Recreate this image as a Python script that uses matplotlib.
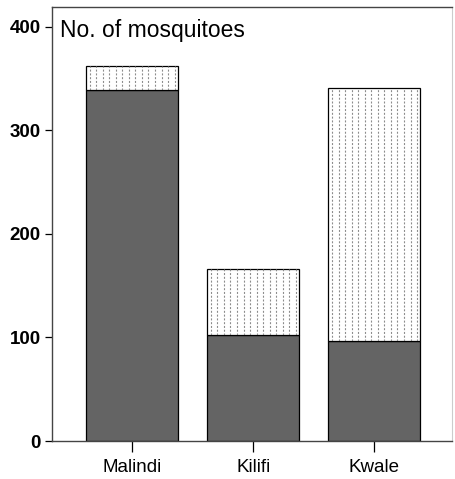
import numpy as np
import matplotlib.pyplot as plt

plt.rcParams['font.family'] = ['Liberation Sans', 'DejaVu Sans']

sites = ['Malindi', 'Kilifi', 'Kwale']
lower = [339, 102, 97]      # dark part
total = [362, 166, 341]     # full bar height
upper = [t - l for t, l in zip(total, lower)]
yticks = [0, 100, 200, 300, 400]

fig = plt.figure(figsize=(4.55, 4.79), dpi=100)
ax = fig.add_axes([52/455, 1 - 441/479, 400/455, 434/479])

x = np.arange(len(sites))
w = 0.76
ax.bar(x, lower, width=w, color='#646464', edgecolor='black', linewidth=0.9, zorder=2)
tops = ax.bar(x, upper, bottom=lower, width=w, color='white', edgecolor='black',
              linewidth=0.9, zorder=2)

# dotted vertical texture inside the light segments
for p in tops:
    xs = np.arange(p.get_x() + 0.03, p.get_x() + p.get_width(), 0.054)
    lines = ax.vlines(xs, p.get_y(), p.get_y() + p.get_height(), colors='#8c8c8c',
                      linewidth=0.8, linestyles=(0, (1.8, 1.6)), zorder=3)
    lines.set_clip_path(p)

ax.set_xlim(-0.66, 2.64)
ax.set_ylim(0, 419)
ax.set_xticks(x)
ax.set_xticklabels(sites, fontsize=13.5)
ax.set_yticks(yticks)
ax.set_yticklabels([str(v) for v in yticks], fontsize=13.5, fontweight='bold')
ax.tick_params(axis='y', length=5, width=0.9, pad=3)
ax.tick_params(axis='x', length=8, width=0.9, pad=5)

for s in ['left', 'bottom', 'top']:
    ax.spines[s].set_color('#444444')
    ax.spines[s].set_linewidth(1.0)
ax.spines['right'].set_color('#cccccc')

ax.text(0.02, 0.972, 'No. of mosquitoes', transform=ax.transAxes,
        fontsize=16.5, va='top', ha='left')

fig.savefig('out.png', dpi=100)
